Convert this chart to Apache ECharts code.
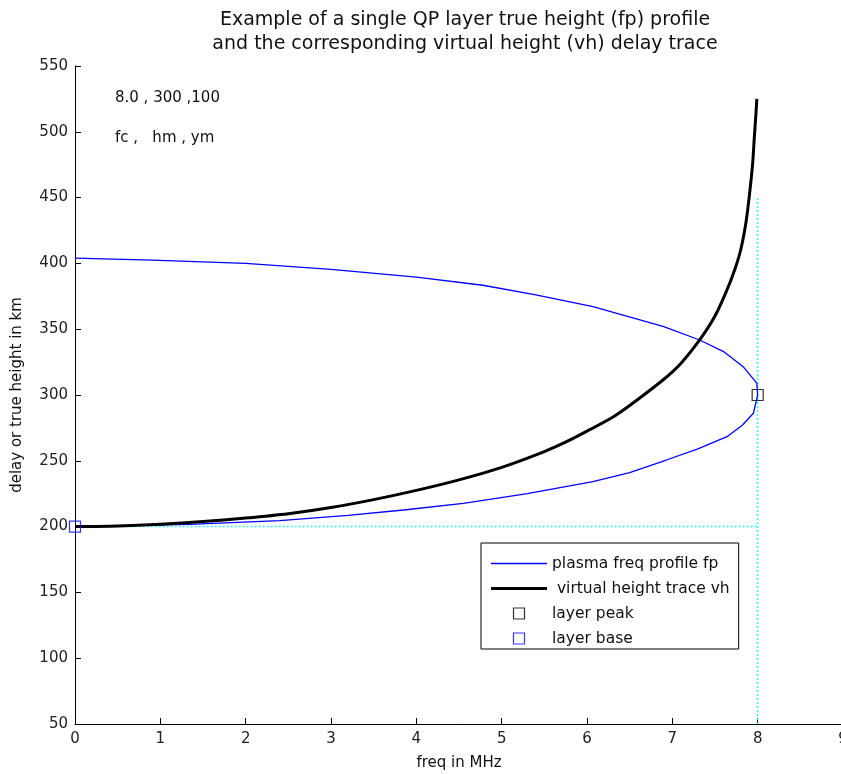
<!DOCTYPE html>
<html>
<head>
<meta charset="utf-8">
<script src="https://cdn.jsdelivr.net/npm/echarts@6/dist/echarts.min.js"></script>
<style>
  html, body { margin: 0; padding: 0; background: #fff; }
  #chart { width: 841px; height: 774px; }
</style>
</head>
<body>
<div id="chart"></div>
<script>
// QP layer parameters shown in the annotation
const layerParams = ['8.0 , 300 ,100', 'fc ,   hm , ym'];

// Plasma frequency profile fp (MHz) against true height (km), base -> peak -> top
const profileFreq = [0, 1.33, 2.4, 3.2, 3.85, 4.55, 5.3, 6.07, 6.5, 6.93, 7.3, 7.64, 7.82, 7.95, 8.0,
                     7.99, 7.83, 7.6, 7.32, 6.9, 6.07, 5.4, 4.78, 4.0, 3.0, 2.0, 0.9, 0];
const profileHeight = [200, 201.7, 204.5, 208.5, 212.6, 217.7, 225, 234.1, 241, 250.6, 259, 268.3, 277, 286.1, 300,
                       309, 321.5, 333, 341.8, 352, 367.1, 376, 383.4, 389.5, 395.5, 400, 402.5, 404];

// Virtual height delay trace vh (km) against sounding frequency (MHz)
const traceFreq = [0, 0.5, 1.0, 1.5, 2.0, 2.5, 3.0, 3.5, 4.0, 4.5, 5.0, 5.5, 5.76, 6.0, 6.31, 6.5, 6.89,
                   7.1, 7.32, 7.5, 7.64, 7.73, 7.8, 7.86, 7.9, 7.94, 7.96, 7.98, 7.99];
const traceHeight = [200, 200.5, 201.8, 203.8, 206.5, 209.8, 214.5, 220.5, 227.5, 235.5, 245, 257, 264.5, 272.5, 283.5, 292, 311.4,
                     324, 341.8, 360, 379.8, 395, 410, 430, 450, 475, 495, 514, 525];

// Layer peak (fc, hm) and layer base (0, hm - ym)
const peakPoint = [8.0, 300];
const basePoint = [0, 200];

// Reference guides through the peak frequency and the base height
const peakGuide = [[8.0, 50], [8.0, 450]];
const baseGuide = [[0, 200], [8.0, 200]];

const xTicks = { min: 0, max: 9, step: 1 };
const yTicks = { min: 50, max: 550, step: 50 };

const zip = (a, b) => a.map((v, i) => [v, b[i]]);

const FONT = '"DejaVu Sans", Verdana, sans-serif';
const LINE_ICON = 'path://M0,0 L56,0 L56,1.4 L0,1.4 Z';
const THICK_ICON = 'path://M0,0 L56,0 L56,3 L0,3 Z';
const SQUARE_ICON = 'path://M0,0 L10,0 L10,10 L0,10 Z';

const chart = echarts.init(document.getElementById('chart'), null, { renderer: 'canvas' });

chart.setOption({
  animation: false,
  backgroundColor: '#ffffff',
  title: {
    text: 'Example of a single QP layer true height (fp) profile\nand the corresponding virtual height (vh) delay trace',
    left: 460, top: 3, textAlign: 'center',
    textStyle: { fontFamily: FONT, fontSize: 19, fontWeight: 'normal', color: '#111', lineHeight: 24 }
  },
  grid: { left: 75, top: 66, width: 768, height: 658, outerBoundsMode: 'none' },
  xAxis: {
    type: 'value', min: xTicks.min, max: xTicks.max, interval: xTicks.step,
    name: 'freq in MHz', nameLocation: 'middle', nameGap: 32,
    nameTextStyle: { fontFamily: FONT, fontSize: 15, color: '#111' },
    axisLine: { lineStyle: { color: '#000', width: 1 } },
    axisTick: { inside: true, length: 6, lineStyle: { color: '#000' } },
    axisLabel: { fontFamily: FONT, fontSize: 15, color: '#222', margin: 8, showMinLabel: true, showMaxLabel: true },
    splitLine: { show: false }
  },
  yAxis: {
    type: 'value', min: yTicks.min, max: yTicks.max, interval: yTicks.step,
    name: 'delay or true height in km', nameLocation: 'middle', nameGap: 50, nameRotate: 90,
    nameTextStyle: { fontFamily: FONT, fontSize: 15, color: '#111' },
    axisLine: { show: true, lineStyle: { color: '#000', width: 1 } },
    axisTick: { show: true, inside: true, length: 6, lineStyle: { color: '#000' } },
    axisLabel: { fontFamily: FONT, fontSize: 15, color: '#222', margin: 7, showMinLabel: true, showMaxLabel: true },
    splitLine: { show: false }
  },
  legend: {
    orient: 'vertical', left: 481, top: 543,
    borderColor: '#000', borderWidth: 1,
    padding: [12, 9, 2, 10], itemGap: 8, itemWidth: 56, itemHeight: 11,
    textStyle: { fontFamily: FONT, fontSize: 15.5, color: '#111', lineHeight: 17 },
    data: [
      { name: 'plasma freq profile fp', icon: LINE_ICON, itemStyle: { color: '#0000ff' } },
      { name: ' virtual height trace vh', icon: THICK_ICON, itemStyle: { color: '#000' } },
      { name: 'layer peak', icon: SQUARE_ICON, itemStyle: { color: 'transparent', borderColor: '#000', borderWidth: 1.2 } },
      { name: 'layer base', icon: SQUARE_ICON, itemStyle: { color: 'transparent', borderColor: '#0000ff', borderWidth: 1.2 } }
    ]
  },
  graphic: [
    { type: 'text', left: 115, top: 91, style: { text: layerParams[0], font: '15px ' + FONT, fill: '#111' } },
    { type: 'text', left: 115, top: 131, style: { text: layerParams[1], font: '15px ' + FONT, fill: '#111' } }
  ],
  series: [
    {
      name: 'peak guide', type: 'line', data: peakGuide, symbol: 'none', silent: true,
      lineStyle: { color: '#00ffff', width: 1.5, type: [1.5, 2.5] }, z: 1
    },
    {
      name: 'base guide', type: 'line', data: baseGuide, symbol: 'none', silent: true,
      lineStyle: { color: '#00ffff', width: 1.5, type: [1.5, 2.5] }, z: 1
    },
    {
      name: 'plasma freq profile fp', type: 'line', data: zip(profileFreq, profileHeight),
      symbol: 'none', smooth: false, lineStyle: { color: '#0000ff', width: 1.3 }, itemStyle: { color: '#0000ff' }, z: 3
    },
    {
      name: ' virtual height trace vh', type: 'line', data: zip(traceFreq, traceHeight),
      symbol: 'none', smooth: 0.3, lineStyle: { color: '#000', width: 3 }, itemStyle: { color: '#000' }, z: 4
    },
    {
      name: 'layer peak', type: 'scatter', data: [peakPoint], symbol: 'rect', symbolSize: 11,
      itemStyle: { color: 'transparent', borderColor: '#000', borderWidth: 1.2 }, z: 5
    },
    {
      name: 'layer base', type: 'scatter', data: [basePoint], symbol: 'rect', symbolSize: 11,
      itemStyle: { color: 'transparent', borderColor: '#0000ff', borderWidth: 1.2 }, z: 5
    }
  ]
});
</script>
</body>
</html>
